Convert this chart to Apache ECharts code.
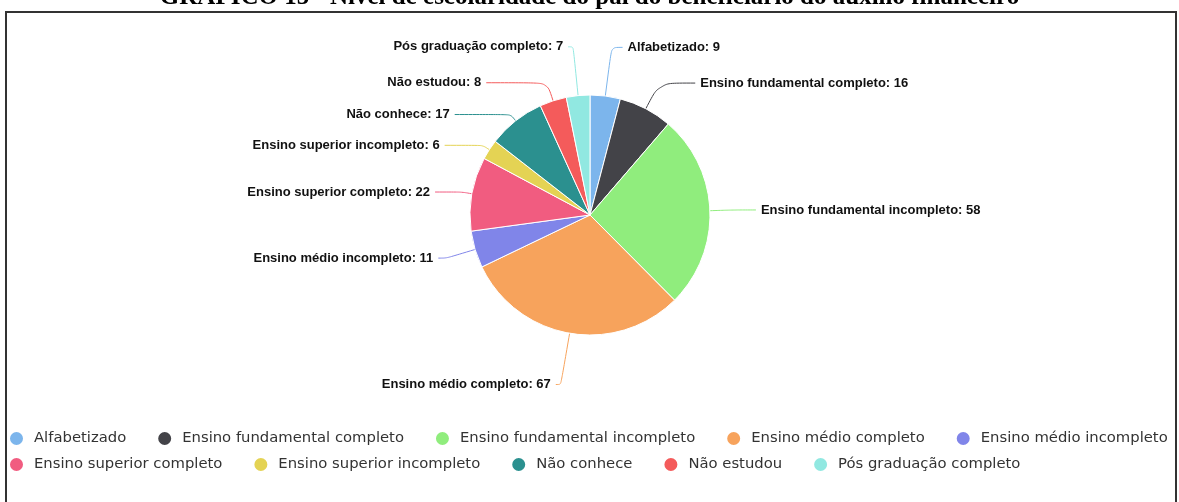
<!DOCTYPE html>
<html>
<head>
<meta charset="utf-8">
<script src="https://cdn.jsdelivr.net/npm/echarts@6/dist/echarts.min.js"></script>
<style>
  html, body { margin: 0; padding: 0; background: #fff; }
  #chart { width: 1179px; height: 502px; }
</style>
</head>
<body>
<div id="chart"></div>
<script>
// ---- Data ----
const titleText = 'GRÁFICO 15 - Nível de escolaridade do pai do beneficiário do auxílio financeiro';
const categories = [
  'Alfabetizado',
  'Ensino fundamental completo',
  'Ensino fundamental incompleto',
  'Ensino médio completo',
  'Ensino médio incompleto',
  'Ensino superior completo',
  'Ensino superior incompleto',
  'Não conhece',
  'Não estudou',
  'Pós graduação completo'
];
const values = [9, 16, 58, 67, 11, 22, 6, 17, 8, 7];

// ---- Styling (kept apart from the data) ----
const palette = ['#7cb5ec', '#434348', '#90ed7d', '#f7a35c', '#8085e9',
                 '#f15c80', '#e4d354', '#2b908f', '#f45b5b', '#91e8e1'];
// connector lengths [length, length2] per slice, in category order
const connectorLengths = [
  [49, 11], [29, 36], [22, 24], [52, 5], [30, 8],
  [10, 27], [8, 38], [8, 56], [19, 61], [49, 5]
];

const seriesData = categories.map((name, i) => ({
  name: name,
  value: values[i],
  labelLine: { length: connectorLengths[i][0], length2: connectorLengths[i][1] }
}));

const legendText = { fontFamily: 'DejaVu Sans', fontSize: 14.8, color: '#333333', padding: [0, 0, 0, 5] };

const chart = echarts.init(document.getElementById('chart'), null, { renderer: 'canvas' });
chart.setOption({
  animation: false,
  color: palette,
  title: {
    text: titleText,
    left: 'center',
    top: -15,
    padding: 0,
    textStyle: { fontFamily: 'Liberation Serif', fontWeight: 'bold', fontSize: 25, color: '#000' }
  },
  graphic: [{
    type: 'rect',
    silent: true,
    shape: { x: 6, y: 12, width: 1170, height: 520 },
    style: { fill: 'none', stroke: '#333', lineWidth: 2 }
  }],
  legend: [{
    data: categories.slice(0, 5),
    left: 8, top: 430, padding: 0,
    icon: 'circle', itemWidth: 15, itemHeight: 15, itemGap: 30,
    textStyle: legendText
  }, {
    data: categories.slice(5),
    left: 8, top: 456, padding: 0,
    icon: 'circle', itemWidth: 15, itemHeight: 15, itemGap: 30,
    textStyle: legendText
  }],
  series: [{
    type: 'pie',
    center: [590, 215],
    radius: 120,
    startAngle: 90,
    clockwise: true,
    avoidLabelOverlap: false,
    itemStyle: { borderColor: '#ffffff', borderWidth: 1 },
    label: {
      show: true,
      formatter: '{b}: {c}',
      fontFamily: 'Liberation Sans',
      fontWeight: 'bold',
      fontSize: 13,
      color: '#111'
    },
    labelLine: { show: true, smooth: 0.3, lineStyle: { width: 1 } },
    emphasis: { disabled: true },
    data: seriesData
  }]
});
</script>
</body>
</html>
